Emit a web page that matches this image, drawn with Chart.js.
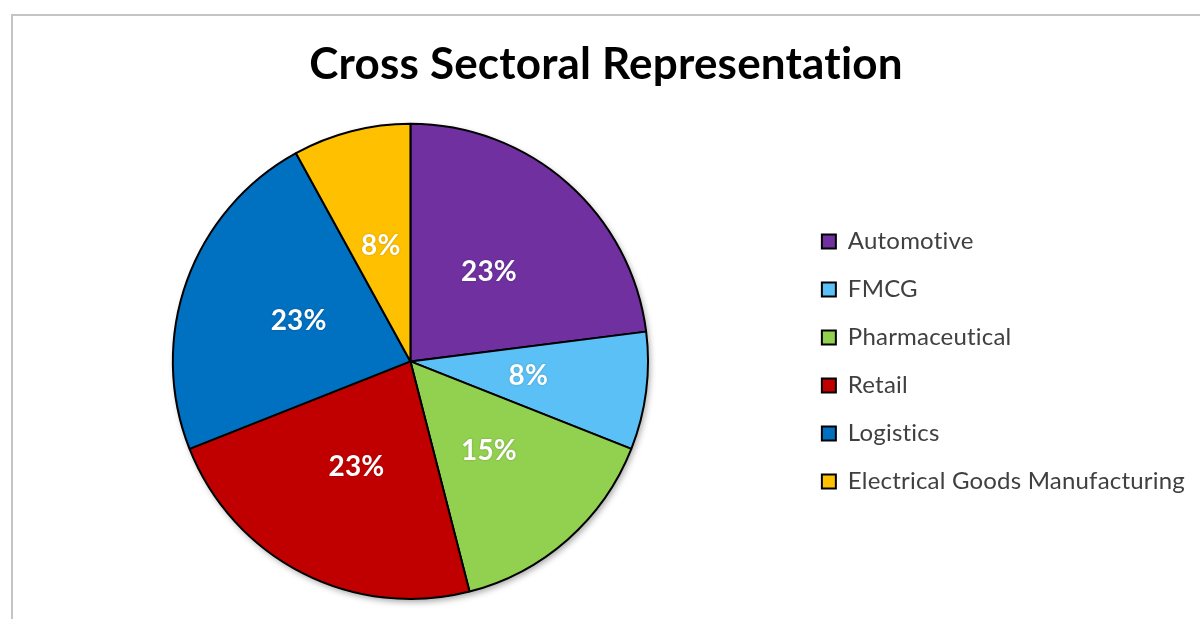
<!DOCTYPE html>
<html>
<head>
<meta charset="utf-8">
<script src="https://cdn.jsdelivr.net/npm/chart.js@4.4.1/dist/chart.umd.min.js"></script>
<style>
  html, body { margin: 0; padding: 0; background: #fff; }
  #wrap { position: relative; width: 1200px; height: 619px; overflow: hidden; }
  #frame {
    position: absolute; left: 11px; top: 14px; width: 1300px; height: 700px;
    border-left: 2px solid #c4c4c4; border-top: 2px solid #c4c4c4;
  }
  #pieChart { position: absolute; left: 0; top: 0; }
</style>
</head>
<body>
<div id="wrap">
  <div id="frame"></div>
  <canvas id="pieChart" width="1200" height="619"></canvas>
</div>
<script>
// sector shares, in percent
const sectors = ['Automotive', 'FMCG', 'Pharmaceutical', 'Retail', 'Logistics', 'Electrical Goods Manufacturing'];
const shares = [23, 8, 15, 23, 23, 8];
const sliceColors = ['#7030A0', '#5BC0F5', '#92D050', '#C00000', '#0070C0', '#FFC000'];

// a touch of letter spacing keeps Lato from joining "ti"
const textSpacing = {
    id: 'textSpacing',
    beforeDraw(chart) {
        chart.ctx.letterSpacing = '0.2px';
    }
};

// soft shadow under the whole pie
const pieShadow = {
    id: 'pieShadow',
    beforeDatasetsDraw(chart) {
        const arc = chart.getDatasetMeta(0).data[0];
        if (!arc) return;
        const ctx = chart.ctx;
        ctx.save();
        ctx.shadowColor = 'rgba(0,0,0,0.35)';
        ctx.shadowBlur = 6;
        ctx.shadowOffsetX = 2;
        ctx.shadowOffsetY = 3;
        ctx.fillStyle = '#888';
        ctx.beginPath();
        ctx.arc(arc.x, arc.y, arc.outerRadius, 0, Math.PI * 2);
        ctx.fill();
        ctx.restore();
    }
};

// percentage labels inside the slices
const sliceLabels = {
    id: 'sliceLabels',
    afterDatasetsDraw(chart) {
        const ctx = chart.ctx;
        const meta = chart.getDatasetMeta(0);
        ctx.save();
        ctx.font = 'bold 28px Lato';
        ctx.fillStyle = '#ffffff';
        ctx.textAlign = 'center';
        ctx.textBaseline = 'middle';
        ctx.shadowColor = 'rgba(0,0,0,0.25)';
        ctx.shadowBlur = 2;
        meta.data.forEach((arc, i) => {
            const p = arc.tooltipPosition();
            ctx.fillText(shares[i] + '%', p.x, p.y);
        });
        ctx.restore();
    }
};

new Chart(document.getElementById('pieChart'), {
    type: 'pie',
    data: {
        labels: sectors,
        datasets: [{
            data: shares,
            backgroundColor: sliceColors,
            borderColor: '#000000',
            borderWidth: 2
        }]
    },
    options: {
        responsive: false,
        animation: false,
        layout: { padding: { left: 23, right: 11, top: 38, bottom: 19 } },
        plugins: {
            title: {
                display: true,
                text: 'Cross Sectoral Representation',
                color: '#000000',
                font: { family: 'Lato', size: 44, weight: 'bold' },
                padding: { top: 0, bottom: 32 }
            },
            legend: {
                position: 'right',
                fullSize: false,
                labels: {
                    color: '#404040',
                    font: { family: 'Lato', size: 24 },
                    boxWidth: 14,
                    boxHeight: 14,
                    padding: 24
                }
            },
            tooltip: { enabled: false }
        }
    },
    plugins: [textSpacing, pieShadow, sliceLabels]
});
</script>
</body>
</html>
